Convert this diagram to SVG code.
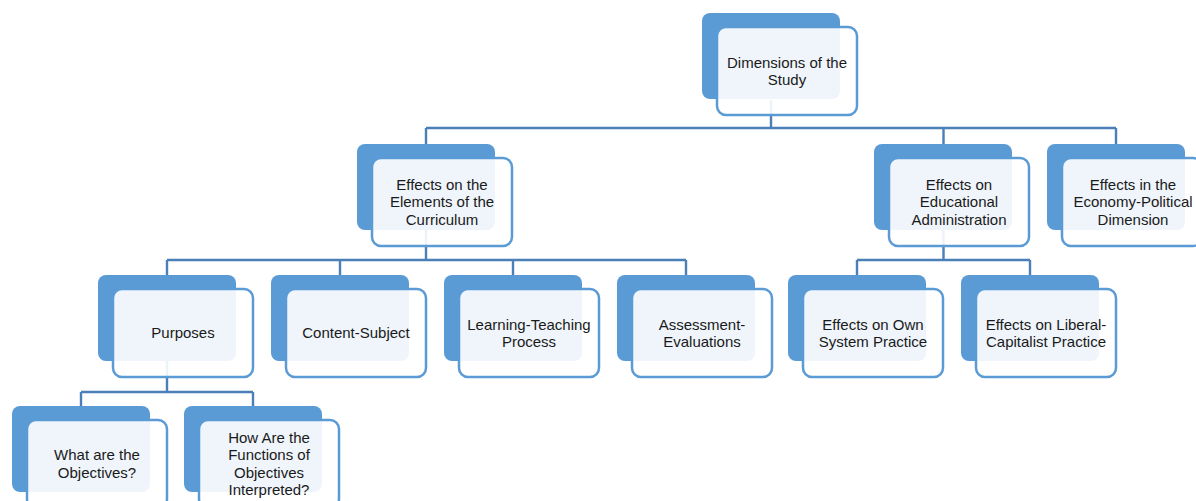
<svg xmlns="http://www.w3.org/2000/svg" width="1196" height="501" viewBox="0 0 1196 501">
<style>
.bk{fill:#5B9BD5;}
.fr{fill:#ffffff;fill-opacity:0.9;stroke:#5B9BD5;stroke-width:2.5;}
.cn{fill:none;stroke:#4A7FB8;stroke-width:2.4;}
text{font-family:"Liberation Sans",Arial,sans-serif;font-size:15px;fill:#1a1a1a;text-anchor:middle;}
</style>
<rect width="1196" height="501" fill="#ffffff"/>
<g id="connectors" class="cn">
<path d="M771,100V128M426,128H1116M426,128V144M943.5,128V144M1116,128V144"/>
<path d="M426,230V260M167,260H686M167,260V275M340,260V275M513,260V275M686,260V275"/>
<path d="M943.5,230V260M857,260H1030M857,260V275M1030,260V275"/>
<path d="M167,361V392M81,392H253M81,392V406M253,392V406"/>
</g>
<g id="n-dimensions">
<rect class="bk" x="702" y="13" width="138" height="86" rx="8"/>
<rect class="fr" x="717" y="27" width="140" height="88" rx="9"/>
<text x="787" y="67.5">Dimensions of the</text>
<text x="787" y="85">Study</text>
</g>
<g id="n-elements">
<rect class="bk" x="357" y="144" width="138" height="86" rx="8"/>
<rect class="fr" x="372" y="158" width="140" height="88" rx="9"/>
<text x="442" y="189.8">Effects on the</text>
<text x="442" y="207.3">Elements of the</text>
<text x="442" y="224.8">Curriculum</text>
</g>
<g id="n-eduadmin">
<rect class="bk" x="874" y="144" width="138" height="86" rx="8"/>
<rect class="fr" x="889" y="158" width="140" height="88" rx="9"/>
<text x="959" y="189.8">Effects on</text>
<text x="959" y="207.3">Educational</text>
<text x="959" y="224.8">Administration</text>
</g>
<g id="n-economy">
<rect class="bk" x="1047" y="144" width="138" height="86" rx="8"/>
<rect class="fr" x="1062" y="158" width="140" height="88" rx="9"/>
<text x="1133" y="189.8">Effects in the</text>
<text x="1133" y="207.3">Economy-Political</text>
<text x="1133" y="224.8">Dimension</text>
</g>
<g id="n-purposes">
<rect class="bk" x="98" y="275" width="138" height="86" rx="8"/>
<rect class="fr" x="113" y="289" width="140" height="88" rx="9"/>
<text x="183" y="338.3">Purposes</text>
</g>
<g id="n-content">
<rect class="bk" x="271" y="275" width="138" height="86" rx="8"/>
<rect class="fr" x="286" y="289" width="140" height="88" rx="9"/>
<text x="356" y="338.3">Content-Subject</text>
</g>
<g id="n-learning">
<rect class="bk" x="444" y="275" width="138" height="86" rx="8"/>
<rect class="fr" x="459" y="289" width="140" height="88" rx="9"/>
<text x="529" y="329.5">Learning-Teaching</text>
<text x="529" y="347">Process</text>
</g>
<g id="n-assessment">
<rect class="bk" x="617" y="275" width="138" height="86" rx="8"/>
<rect class="fr" x="632" y="289" width="140" height="88" rx="9"/>
<text x="702" y="329.5">Assessment-</text>
<text x="702" y="347">Evaluations</text>
</g>
<g id="n-ownsystem">
<rect class="bk" x="788" y="275" width="138" height="86" rx="8"/>
<rect class="fr" x="803" y="289" width="140" height="88" rx="9"/>
<text x="873" y="329.5">Effects on Own</text>
<text x="873" y="347">System Practice</text>
</g>
<g id="n-liberal">
<rect class="bk" x="961" y="275" width="138" height="86" rx="8"/>
<rect class="fr" x="976" y="289" width="140" height="88" rx="9"/>
<text x="1046" y="329.5">Effects on Liberal-</text>
<text x="1046" y="347">Capitalist Practice</text>
</g>
<g id="n-what">
<rect class="bk" x="12" y="406" width="138" height="86" rx="8"/>
<rect class="fr" x="27" y="420" width="140" height="88" rx="9"/>
<text x="97" y="460">What are the</text>
<text x="97" y="477.5">Objectives?</text>
</g>
<g id="n-how">
<rect class="bk" x="184" y="406" width="138" height="86" rx="8"/>
<rect class="fr" x="199" y="420" width="140" height="88" rx="9"/>
<text x="269" y="442.5">How Are the</text>
<text x="269" y="460">Functions of</text>
<text x="269" y="477.5">Objectives</text>
<text x="269" y="495">Interpreted?</text>
</g>
</svg>
